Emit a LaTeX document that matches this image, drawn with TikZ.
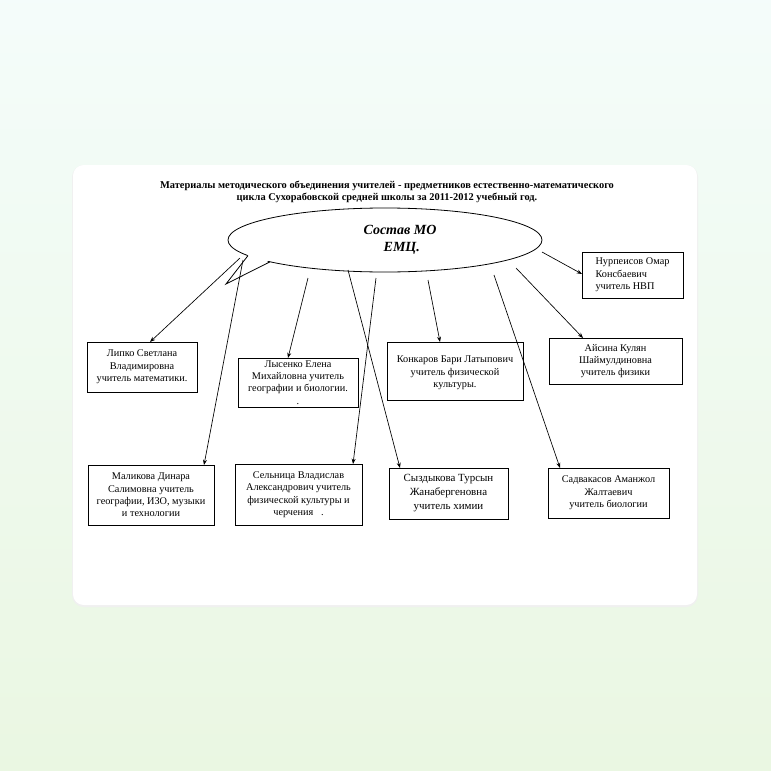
\documentclass[tikz,border=0pt]{standalone}
\usepackage{fontspec}
\setmainfont{Liberation Serif}
\usetikzlibrary{arrows.meta}
\begin{document}
\begin{tikzpicture}[x=0.75pt,y=-0.75pt,
 box/.style={draw,line width=0.5pt,fill=white,font=\fontsize{7.7}{9.3}\selectfont,align=center,inner sep=0pt},
 arr/.style={-{Stealth[length=4pt,width=3pt]},line width=0.5pt}]
\definecolor{bgc}{HTML}{E4F8F4}
\definecolor{bgg}{HTML}{EAF7E2}
\shade[top color=white!60!bgc,bottom color=bgg] (0,0) rectangle (771,771);
\fill[black!6,rounded corners=9pt] (72,165) rectangle (698,607);
\fill[white,rounded corners=8pt] (73,165) rectangle (697,605);
\useasboundingbox (0,0) rectangle (771,771);
\node[font=\bfseries\fontsize{7.8}{9.5}\selectfont,align=center] (title) at (387,192) {Материалы методического объединения учителей - предметников естественно-математического\\цикла Сухорабовской средней школы за 2011-2012 учебный год.};
% ellipse callout
\draw[line width=0.6pt,fill=white] (385,240) ellipse [x radius=157, y radius=32];
\fill[white] (249,254) -- (226,284) -- (272,259) -- cycle;
\draw[line width=0.6pt] (248,255.6) -- (226,284) -- (270,261.8);
\node[font=\bfseries\itshape\fontsize{10.5}{12.5}\selectfont,align=center] (c) at (400,240) {Состав МО\\ \ ЕМЦ.};
\coordinate (e1) at (240,258);
\coordinate (e2) at (243,260);
\coordinate (e3) at (308,278);
\coordinate (e4) at (348,270);
\coordinate (e5) at (376,278);
\coordinate (e6) at (428,280);
\coordinate (e7) at (494,275);
\coordinate (e8) at (516,268);
\coordinate (e9) at (542,252);
\node[box,minimum width=75.75pt,minimum height=34.5pt,align=left] (n1) at (632.5,275) {Нурпеисов Омар\\Консбаевич\\учитель НВП};
\node[box,minimum width=82.5pt,minimum height=37.5pt] (b1) at (142,367) {Липко Светлана\\Владимировна\\учитель математики.};
\node[box,minimum width=90pt,minimum height=36.75pt] (b2) at (298,382.5) {Лысенко Елена\\Михайловна учитель\\географии и биологии.\\.};
\node[box,minimum width=102pt,minimum height=43.5pt,anchor=north] (b3) at (455,342) {\\[-2pt]Конкаров Бари Латыпович\\учитель физической\\культуры.};
\node[box,minimum width=99.75pt,minimum height=34.5pt] (b4) at (615.5,361) {Айсина Кулян\\Шаймулдиновна\\учитель физики};
\node[box,minimum width=94.5pt,minimum height=45pt] (b5) at (151,495) {Маликова Динара\\Салимовна  учитель\\географии, ИЗО, музыки\\и технологии};
\node[box,minimum width=95.25pt,minimum height=45.75pt] (b6) at (298.5,494.5) {Сельница Владислав\\Александрович учитель\\физической культуры и\\черчения\ \ \ .};
\node[box,minimum width=89.25pt,minimum height=38.25pt,font=\fontsize{8.2}{10.5}\selectfont] (b7) at (448.5,493.5) {Сыздыкова Турсын\\Жанабергеновна\\учитель химии};
\node[box,minimum width=90.75pt,minimum height=37.5pt] (b8) at (608.5,493) {Садвакасов Аманжол\\Жалтаевич\\учитель биологии};
\draw[arr] (e1) -- (150,342);
\draw[arr] (e2) -- (204,465);
\draw[arr] (e3) -- (288,358);
\draw[arr] (e4) -- (400,468);
\draw[arr] (e5) -- (353,464);
\draw[arr] (e6) -- (440,342);
\draw[arr] (e7) -- (560,468);
\draw[arr] (e8) -- (583,338);
\draw[arr] (e9) -- (582,274);
\end{tikzpicture}
\end{document}
